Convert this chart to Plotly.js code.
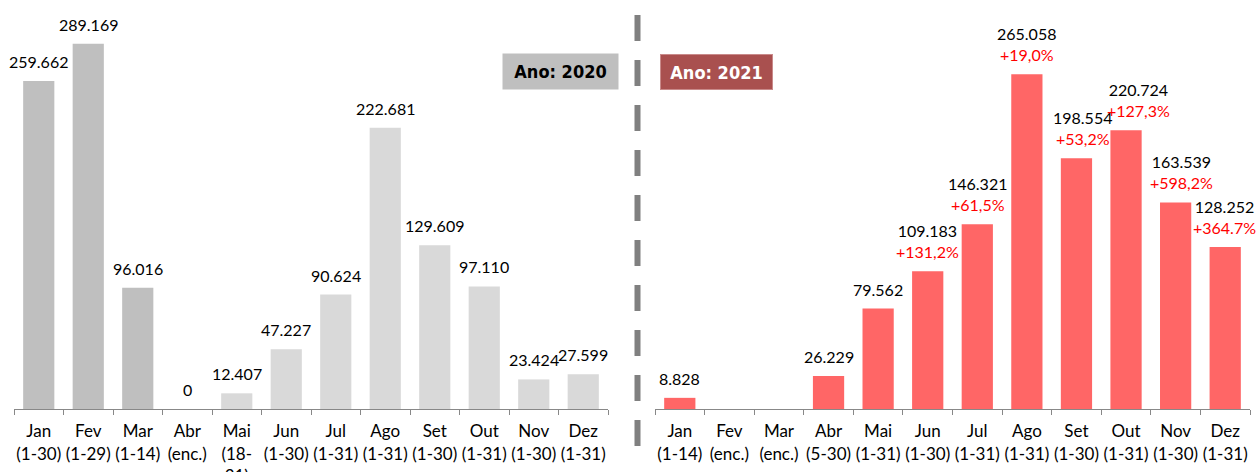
<!DOCTYPE html>
<html>
<head>
<meta charset="utf-8">
<script src="https://cdn.plot.ly/plotly-3.0.1.min.js"></script>
<style>html,body{margin:0;padding:0;background:#fff;}#chart{width:1256px;height:472px;}</style>
</head>
<body>
<div id="chart"></div>
<script>
// ---- data ----
const labels2020 = ["Jan<br>(1-30)", "Fev<br>(1-29)", "Mar<br>(1-14)", "Abr<br>(enc.)", "Mai<br>(18-<br>31)", "Jun<br>(1-30)", "Jul<br>(1-31)", "Ago<br>(1-31)", "Set<br>(1-30)", "Out<br>(1-31)", "Nov<br>(1-30)", "Dez<br>(1-31)"];
const values2020 = [259662, 289169, 96016, 0, 12407, 47227, 90624, 222681, 129609, 97110, 23424, 27599];
const labels2021 = ["Jan<br>(1-14)", "Fev<br>(enc.)", "Mar<br>(enc.)", "Abr<br>(5-30)", "Mai<br>(1-31)", "Jun<br>(1-30)", "Jul<br>(1-31)", "Ago<br>(1-31)", "Set<br>(1-30)", "Out<br>(1-31)", "Nov<br>(1-30)", "Dez<br>(1-31)"];
const values2021 = [8828, null, null, 26229, 79562, 109183, 146321, 265058, 198554, 220724, 163539, 128252];
const growth2021 = ["", "", "", "", "", "+131,2%", "+61,5%", "+19,0%", "+53,2%", "+127,3%", "+598,2%", "+364.7%"];

// ---- styles ----
const colors2020 = ["#BFBFBF", "#BFBFBF", "#BFBFBF", "#D9D9D9", "#D9D9D9", "#D9D9D9", "#D9D9D9", "#D9D9D9", "#D9D9D9", "#D9D9D9", "#D9D9D9", "#D9D9D9"];
const color2021 = "#FF6666";
const labelShift2021 = [0, 0, 0, 0, 0, 0, 0, 0, 6, 12, 6, -1];
const FONT = "Lato, 'Open Sans', sans-serif";
const BOXFONT = "'Liberation Sans Narrow', 'DejaVu Sans Condensed', 'Liberation Sans', sans-serif";

function fmt(v) {
  return String(v).replace(/\B(?=(\d{3})+(?!\d))/g, ".");
}

const traces = [
  {type: "bar", x: labels2020, y: values2020, xaxis: "x", yaxis: "y",
   marker: {color: colors2020}, width: 0.63, hoverinfo: "none"},
  {type: "bar", x: labels2021, y: values2021, xaxis: "x2", yaxis: "y",
   marker: {color: color2021}, width: 0.63, hoverinfo: "none"}
];

const annotations = [];
values2020.forEach((v, i) => {
  if (v === null) return;
  annotations.push({xref: "x", yref: "y", x: labels2020[i], y: v, text: fmt(v),
    showarrow: false, yanchor: "bottom", yshift: 8,
    font: {family: FONT, size: 16, color: "#000"}});
});
values2021.forEach((v, i) => {
  if (v === null) return;
  let t = fmt(v);
  if (growth2021[i]) t += "<br><span style='color:#FF0000'>" + growth2021[i] + "</span>";
  annotations.push({xref: "x2", yref: "y", x: labels2021[i], y: v, text: t,
    showarrow: false, yanchor: "bottom", yshift: 8, xshift: labelShift2021[i],
    font: {family: FONT, size: 16, color: "#000"}});
});

// year boxes
annotations.push({xref: "paper", yref: "paper", x: 560 / 1256, y: 1 - (71.5 / 409), xanchor: "center", yanchor: "middle",
  text: "<b>Ano: 2020</b>", showarrow: false, width: 113, height: 33, bgcolor: "#BFBFBF", borderpad: 1,
  font: {family: BOXFONT, size: 18, color: "#000"}});
annotations.push({xref: "paper", yref: "paper", x: 716 / 1256, y: 1 - (72 / 409), xanchor: "center", yanchor: "middle",
  text: "<b>Ano: 2021</b>", showarrow: false, width: 111, height: 34, bgcolor: "#A9504F", bordercolor: "#C98A8A", borderwidth: 1, borderpad: 0,
  font: {family: BOXFONT, size: 18, color: "#FFFFFF"}});

const axisCommon = {
  type: "category", range: [-0.5, 11.5], showgrid: false, zeroline: false,
  showline: true, linecolor: "#888888", linewidth: 1,
  ticks: "outside", tickson: "boundaries", ticklen: 5, tickcolor: "#888888", tickwidth: 1,
  ticklabelstandoff: 7,
  tickfont: {family: FONT, size: 17, color: "#000"}, tickangle: 0, fixedrange: true
};

const layout = {
  width: 1256, height: 472,
  margin: {l: 0, r: 0, t: 0, b: 63, pad: 0},
  paper_bgcolor: "#fff", plot_bgcolor: "#fff",
  showlegend: false, bargap: 0.37,
  xaxis: Object.assign({}, axisCommon, {domain: [14 / 1256, 608 / 1256], anchor: "y"}),
  xaxis2: Object.assign({}, axisCommon, {domain: [655 / 1256, 1250 / 1256], anchor: "y"}),
  yaxis: {range: [0, 323900], visible: false, showgrid: false, zeroline: false, fixedrange: true},
  annotations: annotations,
  shapes: [{type: "line", xref: "paper", yref: "paper",
    x0: 637.5 / 1256, x1: 637.5 / 1256, y0: 1 - 15 / 409, y1: 1 - 455 / 409,
    line: {color: "#808080", width: 6, dash: "26px,19px"}}]
};

Plotly.newPlot("chart", traces, layout, {displayModeBar: false, staticPlot: true});
</script>
</body>
</html>
